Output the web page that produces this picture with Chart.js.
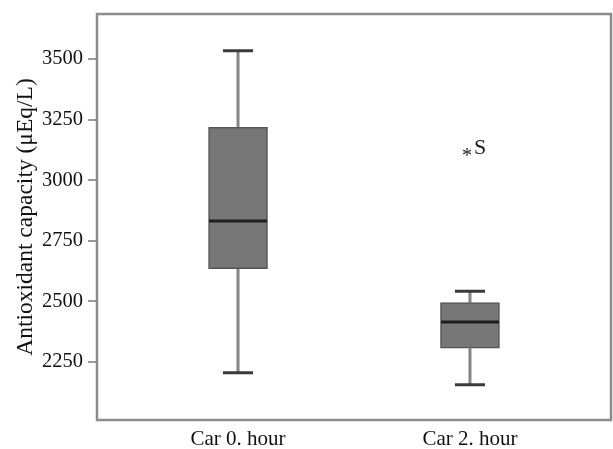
<!DOCTYPE html>
<html>
<head>
<meta charset="utf-8">
<script src="https://cdn.jsdelivr.net/npm/chart.js@4"></script>
<style>
  html, body { margin: 0; padding: 0; background: #fff; }
  #wrap { width: 613px; height: 449px; }
</style>
</head>
<body>
<div id="wrap"><canvas id="boxChart" width="613" height="449"></canvas></div>
<script>
const categories = ["Car 0. hour", "Car 2. hour"];
const whiskerLow = [2206, 2156];
const quartile1 = [2635, 2307];
const medians = [2832, 2415];
const quartile3 = [3218, 2495];
const whiskerHigh = [3534, 2542];
const outliers = [{ x: 1, y: 3112, label: "S" }];
const yTicks = [2250, 2500, 2750, 3000, 3250, 3500];

const serif = '"Liberation Serif", "DejaVu Serif", serif';

// whiskers, caps, medians, outlier labels and the plot frame
const boxExtras = {
  id: 'boxExtras',
  beforeDatasetsDraw(chart) {
    const { ctx, scales: { x, y } } = chart;
    ctx.save();
    ctx.lineCap = 'butt';
    categories.forEach((c, i) => {
      const cx = x.getPixelForValue(i);
      ctx.strokeStyle = '#858585';
      ctx.lineWidth = 3;
      ctx.beginPath();
      ctx.moveTo(cx, y.getPixelForValue(whiskerHigh[i]));
      ctx.lineTo(cx, y.getPixelForValue(quartile3[i]));
      ctx.moveTo(cx, y.getPixelForValue(quartile1[i]));
      ctx.lineTo(cx, y.getPixelForValue(whiskerLow[i]));
      ctx.stroke();
      ctx.strokeStyle = '#3a3a3a';
      ctx.beginPath();
      [whiskerHigh[i], whiskerLow[i]].forEach(v => {
        const py = y.getPixelForValue(v);
        ctx.moveTo(cx - 15, py);
        ctx.lineTo(cx + 15, py);
      });
      ctx.stroke();
    });
    ctx.restore();
  },
  afterDatasetsDraw(chart) {
    const { ctx, chartArea: a, scales: { x, y } } = chart;
    ctx.save();
    ctx.strokeStyle = '#1e1e1e';
    ctx.lineWidth = 3;
    categories.forEach((c, i) => {
      const cx = x.getPixelForValue(i);
      const py = y.getPixelForValue(medians[i]);
      ctx.beginPath();
      ctx.moveTo(cx - 29, py);
      ctx.lineTo(cx + 29, py);
      ctx.stroke();
    });
    ctx.fillStyle = '#222';
    outliers.forEach(o => {
      const px = x.getPixelForValue(o.x);
      const py = y.getPixelForValue(o.y);
      ctx.font = '20px ' + serif;
      ctx.textAlign = 'center';
      ctx.textBaseline = 'middle';
      ctx.fillText('*', px - 3, py + 4);
      ctx.textAlign = 'left';
      ctx.textBaseline = 'alphabetic';
      ctx.font = '22px ' + serif;
      ctx.fillText(o.label, px + 4, py + 1);
    });
    ctx.strokeStyle = '#8c8c8c';
    ctx.lineWidth = 2.5;
    ctx.strokeRect(a.left, a.top, a.right - a.left, a.bottom - a.top);
    ctx.restore();
  }
};

new Chart(document.getElementById('boxChart'), {
  type: 'bar',
  data: {
    datasets: [{
      data: categories.map((c, i) => ({ x: i, y: [quartile1[i], quartile3[i]] })),
      backgroundColor: '#777777',
      borderColor: '#555555',
      borderWidth: 1.5,
      borderSkipped: false,
      barThickness: 59
    }]
  },
  options: {
    responsive: false,
    animation: false,
    layout: { padding: { top: 14, right: 2, left: 0, bottom: 0 } },
    plugins: { legend: { display: false }, tooltip: { enabled: false } },
    scales: {
      x: {
        type: 'linear',
        offset: false,
        min: -0.608,
        max: 1.608,
        afterBuildTicks: s => { s.ticks = categories.map((c, i) => ({ value: i })); },
        afterFit: s => { s.height = 29; s.paddingLeft = 0; s.paddingRight = 0; },
        grid: { display: false, drawTicks: false },
        border: { display: false },
        ticks: {
          padding: 7,
          color: '#111',
          maxRotation: 0,
          font: { family: serif, size: 21 },
          callback: v => categories[v]
        }
      },
      y: {
        min: 2011,
        max: 3686,
        afterBuildTicks: s => { s.ticks = yTicks.map(v => ({ value: v })); },
        afterFit: s => { s.width = 97; s.paddingTop = 0; s.paddingBottom = 0; },
        grid: { drawOnChartArea: false, drawTicks: true, tickLength: 9, color: '#999', lineWidth: 2 },
        border: { display: false },
        ticks: {
          padding: 5,
          color: '#111',
          font: { family: serif, size: 20.5 },
          callback: v => String(v)
        },
        title: {
          display: true,
          text: 'Antioxidant capacity (μEq/L)',
          color: '#111',
          padding: { top: 12, bottom: 0 },
          font: { family: serif, size: 23.5 }
        }
      }
    }
  },
  plugins: [boxExtras]
});
</script>
</body>
</html>
